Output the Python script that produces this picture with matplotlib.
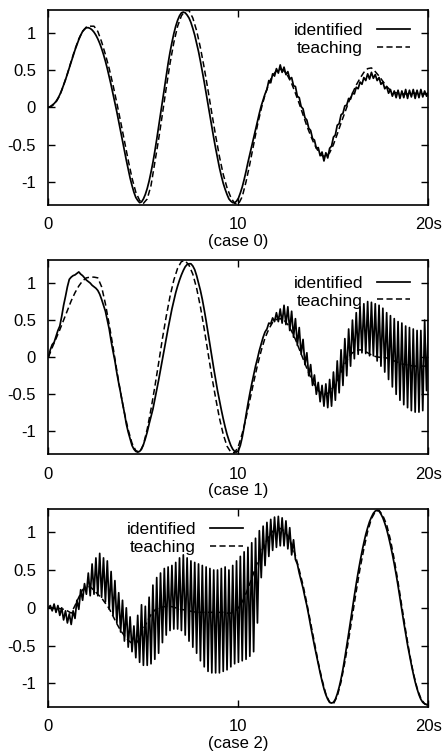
import numpy as np
import matplotlib
matplotlib.use("Agg")
import matplotlib.pyplot as plt

# --- dados (passo 0.2 s para "teaching", 0.1 s para "identified") ---
t_teach = np.linspace(0, 20, 101)
t_ident = np.linspace(0, 20, 201)

teach_0 = [
    0.00, 0.02, 0.07, 0.16, 0.30, 0.45, 0.62, 0.78, 0.92, 1.02,
    1.08, 1.09, 1.09, 1.02, 0.88, 0.71, 0.52, 0.30, 0.06, -0.19,
    -0.45, -0.71, -0.95, -1.14, -1.25, -1.29, -1.23, -1.05, -0.74, -0.43,
    -0.09, 0.26, 0.59, 0.87, 1.09, 1.23, 1.30, 1.30, 1.20, 1.03,
    0.80, 0.53, 0.23, -0.08, -0.38, -0.66, -0.90, -1.08, -1.21, -1.29,
    -1.30, -1.20, -1.00, -0.76, -0.50, -0.24, -0.02, 0.17, 0.32, 0.43,
    0.49, 0.51, 0.49, 0.42, 0.32, 0.19, 0.05, -0.10, -0.25, -0.38,
    -0.50, -0.59, -0.65, -0.66, -0.61, -0.50, -0.36, -0.21, -0.07, 0.07,
    0.19, 0.30, 0.39, 0.47, 0.52, 0.53, 0.48, 0.42, 0.35, 0.28,
    0.23, 0.20, 0.19, 0.18, 0.18, 0.18, 0.19, 0.19, 0.18, 0.18,
    0.19,
]

ident_0 = [
    0.00, 0.01, 0.03, 0.05, 0.08, 0.12, 0.17, 0.23, 0.30, 0.37,
    0.45, 0.53, 0.61, 0.69, 0.77, 0.84, 0.91, 0.97, 1.02, 1.05,
    1.07, 1.07, 1.06, 1.04, 1.01, 0.97, 0.92, 0.86, 0.79, 0.71,
    0.62, 0.52, 0.41, 0.30, 0.18, 0.06, -0.06, -0.19, -0.32, -0.45,
    -0.58, -0.71, -0.83, -0.95, -1.05, -1.14, -1.21, -1.25, -1.28, -1.27,
    -1.23, -1.17, -1.09, -0.99, -0.87, -0.74, -0.59, -0.43, -0.26, -0.09,
    0.09, 0.26, 0.43, 0.59, 0.74, 0.87, 0.99, 1.09, 1.17, 1.23,
    1.27, 1.28, 1.27, 1.24, 1.20, 1.14, 1.06, 0.97, 0.86, 0.75,
    0.62, 0.48, 0.34, 0.19, 0.04, -0.11, -0.26, -0.41, -0.55, -0.68,
    -0.81, -0.92, -1.02, -1.10, -1.17, -1.23, -1.26, -1.28, -1.28, -1.26,
    -1.22, -1.15, -1.07, -0.97, -0.86, -0.74, -0.63, -0.52, -0.41, -0.30,
    -0.19, -0.08, 0.02, 0.10, 0.18, 0.24, 0.36, 0.33, 0.45, 0.42,
    0.52, 0.46, 0.57, 0.47, 0.54, 0.44, 0.48, 0.38, 0.40, 0.29,
    0.28, 0.15, 0.13, 0.01, -0.02, -0.14, -0.17, -0.28, -0.31, -0.42,
    -0.44, -0.55, -0.54, -0.65, -0.60, -0.72, -0.61, -0.68, -0.55, -0.52,
    -0.40, -0.37, -0.24, -0.22, -0.10, -0.08, 0.02, 0.03, 0.12, 0.11,
    0.19, 0.18, 0.27, 0.25, 0.34, 0.31, 0.40, 0.36, 0.45, 0.38,
    0.47, 0.39, 0.44, 0.36, 0.40, 0.31, 0.34, 0.25, 0.28, 0.19,
    0.24, 0.15, 0.22, 0.13, 0.23, 0.12, 0.22, 0.13, 0.24, 0.12,
    0.23, 0.14, 0.24, 0.12, 0.23, 0.13, 0.24, 0.14, 0.22, 0.15,
    0.20,
]

teach_1 = [
    0.00, 0.13, 0.25, 0.37, 0.50, 0.63, 0.76, 0.87, 0.96, 1.03,
    1.07, 1.08, 1.08, 1.07, 0.95, 0.72, 0.44, 0.14, -0.18, -0.48,
    -0.75, -0.98, -1.16, -1.26, -1.28, -1.18, -0.97, -0.70, -0.40, -0.08,
    0.25, 0.55, 0.82, 1.04, 1.20, 1.29, 1.30, 1.24, 1.12, 0.93,
    0.68, 0.38, 0.06, -0.26, -0.55, -0.82, -1.04, -1.20, -1.28, -1.29,
    -1.20, -1.03, -0.82, -0.58, -0.34, -0.11, 0.09, 0.26, 0.38, 0.47,
    0.51, 0.52, 0.50, 0.44, 0.35, 0.24, 0.11, -0.02, -0.15, -0.27,
    -0.37, -0.45, -0.49, -0.50, -0.47, -0.40, -0.31, -0.20, -0.09, 0.00,
    0.06, 0.09, 0.10, 0.09, 0.06, 0.03, 0.01, 0.00, 0.00, -0.01,
    -0.03, -0.05, -0.07, -0.09, -0.10, -0.11, -0.12, -0.12, -0.12, -0.12,
    -0.12,
]

ident_1 = [
    0.00, 0.10, 0.17, 0.20, 0.28, 0.36, 0.42, 0.55, 0.70, 0.82,
    0.95, 1.05, 1.08, 1.10, 1.11, 1.13, 1.15, 1.12, 1.10, 1.07,
    1.04, 1.02, 1.00, 0.97, 0.95, 0.93, 0.90, 0.85, 0.78, 0.70,
    0.62, 0.50, 0.38, 0.22, 0.08, -0.05, -0.21, -0.35, -0.48, -0.62,
    -0.75, -0.90, -1.01, -1.10, -1.19, -1.24, -1.27, -1.28, -1.27, -1.24,
    -1.18, -1.10, -1.01, -0.90, -0.80, -0.70, -0.57, -0.44, -0.31, -0.17,
    -0.03, 0.11, 0.25, 0.39, 0.52, 0.65, 0.76, 0.87, 0.96, 1.04,
    1.11, 1.17, 1.22, 1.25, 1.26, 1.26, 1.23, 1.18, 1.10, 1.00,
    0.90, 0.78, 0.64, 0.49, 0.33, 0.17, 0.01, -0.15, -0.30, -0.45,
    -0.58, -0.71, -0.83, -0.94, -1.04, -1.12, -1.19, -1.24, -1.27, -1.28,
    -1.26, -1.19, -1.08, -0.94, -0.78, -0.63, -0.49, -0.36, -0.24, -0.12,
    -0.02, 0.09, 0.18, 0.27, 0.34, 0.38, 0.46, 0.45, 0.53, 0.48,
    0.60, 0.48, 0.65, 0.46, 0.70, 0.44, 0.68, 0.36, 0.62, 0.27,
    0.52, 0.16, 0.40, 0.04, 0.24, -0.10, 0.06, -0.25, -0.10, -0.38,
    -0.24, -0.50, -0.34, -0.60, -0.38, -0.66, -0.36, -0.68, -0.30, -0.66,
    -0.20, -0.58, -0.05, -0.48, 0.10, -0.38, 0.25, -0.25, 0.38, -0.12,
    0.50, -0.02, 0.60, 0.04, 0.68, 0.06, 0.72, 0.05, 0.75, 0.02,
    0.74, 0.02, 0.72, -0.05, 0.70, -0.12, 0.66, -0.20, 0.60, -0.30,
    0.56, -0.40, 0.52, -0.50, 0.48, -0.58, 0.46, -0.64, 0.42, -0.68,
    0.40, -0.72, 0.38, -0.74, 0.36, -0.74, 0.36, -0.72, 0.50, -0.45,
    0.50,
]

teach_2 = [
    0.00, 0.00, 0.00, -0.01, -0.02, -0.04, -0.07, 0.03, 0.14, 0.24,
    0.28, 0.28, 0.23, 0.18, 0.13, 0.06, -0.01, -0.11, -0.21, -0.30,
    -0.37, -0.43, -0.47, -0.48, -0.40, -0.28, -0.18, -0.09, -0.03, 0.00,
    0.01, 0.02, 0.02, 0.01, -0.01, -0.02, -0.03, -0.04, -0.05, -0.06,
    -0.06, -0.06, -0.06, -0.06, -0.06, -0.06, -0.06, -0.07, -0.07, -0.05,
    0.00, 0.08, 0.19, 0.32, 0.46, 0.60, 0.74, 0.85, 0.94, 1.01,
    1.05, 1.05, 1.02, 0.95, 0.84, 0.69, 0.50, 0.30, 0.06, -0.20,
    -0.46, -0.72, -0.95, -1.14, -1.25, -1.27, -1.17, -0.98, -0.72, -0.42,
    -0.10, 0.22, 0.52, 0.78, 1.01, 1.18, 1.27, 1.29, 1.22, 1.10,
    0.90, 0.64, 0.34, 0.02, -0.30, -0.60, -0.86, -1.06, -1.20, -1.27,
    -1.29,
]

ident_2 = [
    0.00, 0.03, -0.04, 0.05, -0.06, 0.03, -0.10, 0.00, -0.16, -0.04,
    -0.20, -0.08, -0.22, -0.04, -0.14, 0.10, -0.02, 0.24, 0.10, 0.32,
    0.18, 0.46, 0.16, 0.58, 0.18, 0.66, 0.16, 0.72, 0.14, 0.66,
    0.08, 0.62, -0.02, 0.48, -0.10, 0.36, -0.20, 0.20, -0.32, 0.10,
    -0.44, 0.00, -0.52, -0.12, -0.58, -0.24, -0.66, -0.10, -0.72, 0.04,
    -0.76, 0.02, -0.76, 0.14, -0.74, 0.30, -0.68, 0.40, -0.60, 0.46,
    -0.46, 0.52, -0.36, 0.54, -0.30, 0.56, -0.28, 0.60, -0.28, 0.66,
    -0.30, 0.70, -0.36, 0.66, -0.44, 0.62, -0.52, 0.60, -0.60, 0.58,
    -0.70, 0.56, -0.78, 0.54, -0.84, 0.52, -0.86, 0.50, -0.86, 0.50,
    -0.86, 0.52, -0.84, 0.54, -0.82, 0.50, -0.78, 0.56, -0.74, 0.62,
    -0.72, 0.68, -0.70, 0.74, -0.68, 0.80, -0.64, 0.86, -0.58, 0.92,
    -0.20, 1.02, 0.40, 1.08, 0.56, 1.13, 0.68, 1.17, 0.76, 1.20,
    0.80, 1.21, 0.82, 1.19, 0.82, 1.15, 0.78, 1.06, 0.70, 0.90,
    0.64, 0.58, 0.46, 0.36, 0.26, 0.14, 0.03, -0.10, -0.24, -0.37,
    -0.50, -0.62, -0.74, -0.86, -0.97, -1.07, -1.15, -1.21, -1.25, -1.26,
    -1.25, -1.21, -1.14, -1.05, -0.94, -0.81, -0.66, -0.50, -0.34, -0.17,
    -0.01, 0.16, 0.32, 0.47, 0.61, 0.74, 0.86, 0.97, 1.06, 1.14,
    1.20, 1.25, 1.28, 1.29, 1.28, 1.24, 1.19, 1.12, 1.04, 0.94,
    0.83, 0.71, 0.58, 0.44, 0.29, 0.13, -0.03, -0.19, -0.34, -0.49,
    -0.62, -0.75, -0.87, -0.98, -1.07, -1.15, -1.21, -1.25, -1.27, -1.28,
    -1.28,
]

case_labels = ["(case 0)", "(case 1)", "(case 2)"]
xtick_vals = [0, 10, 20]
xtick_text = ["0", "10", "20s"]
ytick_vals = [-1, -0.5, 0, 0.5, 1]
ytick_text = ["-1", "-0.5", "0", "0.5", "1"]

plt.rcParams['font.family'] = ['Liberation Sans', 'DejaVu Sans']
FS = 12
FS_LEG = 12.5

fig = plt.figure(figsize=(4.44, 7.56), dpi=100)

# posicoes dos paineis (fracoes da figura) e da legenda (coords do eixo)
paineis = [
    ([0.109, 0.729, 0.856, 0.258], (0.951, 0.932)),
    ([0.109, 0.399, 0.856, 0.257], (0.951, 0.920)),
    ([0.109, 0.065, 0.856, 0.262], (0.512, 0.934)),
]
series = [(teach_0, ident_0), (teach_1, ident_1), (teach_2, ident_2)]

for k, (rect, leg_pos) in enumerate(paineis):
    ax = fig.add_axes(rect)
    teach, ident = series[k]
    l_id, = ax.plot(t_ident, ident, color='black', lw=1.25, label='identified')
    l_te, = ax.plot(t_teach, teach, color='black', lw=1.1, ls=(0, (4, 2.2)), label='teaching')
    ax.set_xlim(0, 20)
    ax.set_ylim(-1.31, 1.31)
    ax.set_xticks(xtick_vals)
    ax.set_xticklabels(xtick_text, fontsize=FS)
    ax.set_yticks(ytick_vals)
    ax.set_yticklabels(ytick_text, fontsize=FS)
    ax.tick_params(axis='both', direction='in', length=5, width=1,
                   top=True, right=True)
    ax.tick_params(axis='x', pad=9)
    ax.tick_params(axis='y', pad=9)
    for sp in ax.spines.values():
        sp.set_linewidth(1.2)
    ax.set_xlabel(case_labels[k], fontsize=FS, labelpad=1)
    ax.legend(handles=[l_id, l_te], loc='upper right', bbox_to_anchor=leg_pos,
              frameon=False, markerfirst=False, fontsize=FS_LEG, borderpad=0,
              borderaxespad=0, handlelength=1.9, handletextpad=0.8,
              labelspacing=0.15)

fig.savefig('out.png', dpi=100)
